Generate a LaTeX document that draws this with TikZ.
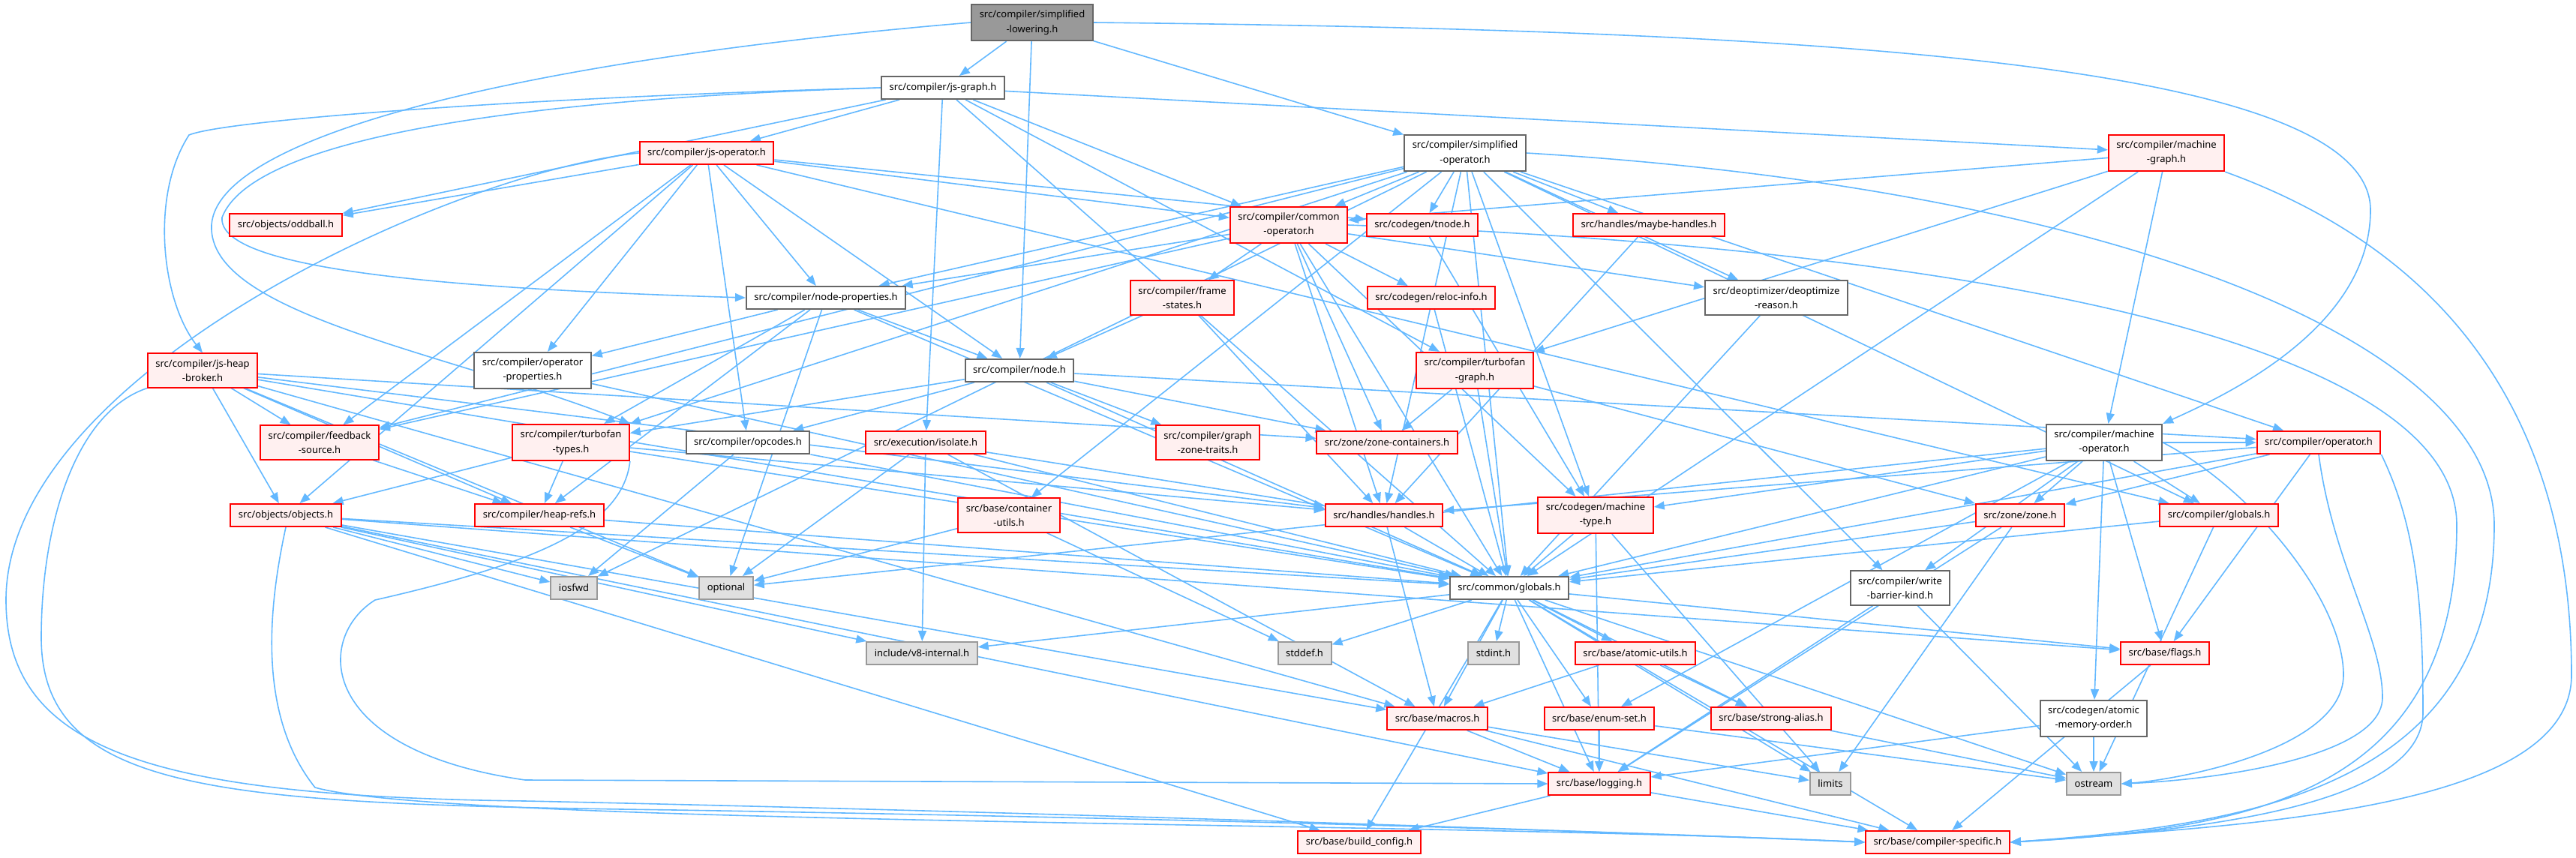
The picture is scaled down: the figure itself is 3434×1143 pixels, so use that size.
\documentclass[tikz,border=0pt]{standalone}
\usepackage{fontspec}
\setmainfont{Noto Sans}
\usetikzlibrary{arrows.meta}

\definecolor{edgeblue}{HTML}{63B8FF}
\definecolor{rootgray}{HTML}{999999}
\definecolor{boxgray}{HTML}{666666}
\definecolor{truncfill}{HTML}{FFF0F0}
\definecolor{sysfill}{HTML}{E0E0E0}
\definecolor{sysgray}{HTML}{999999}
\pgfdeclarelayer{bg}
\pgfsetlayers{bg,main}

\tikzset{
  box/.style={draw, line width=2pt, inner xsep=10.5pt, inner ysep=8pt,
    minimum height=30pt, align=center, font=\fontsize{13}{19.2}\selectfont},
  rootbox/.style={box, fill=rootgray, draw=boxgray},
  plainbox/.style={box, fill=white, draw=boxgray},
  truncbox/.style={box, fill=truncfill, draw=red},
  sysbox/.style={box, fill=sysfill, draw=sysgray},
  dep/.style={->, draw=edgeblue, line width=1.6pt},
}

\begin{document}
\begin{tikzpicture}[x=1pt, y=-1pt, >={Triangle[length=14pt,width=11pt]}]
    \useasboundingbox (0,0) rectangle (3434,1143);
    % Các tệp tiêu đề
    \node[rootbox] (SL) at (1376,30) {src/compiler/simplified\\-lowering.h};
    \node[plainbox] (JG) at (1257,117) {src/compiler/js-graph.h};
    \node[plainbox] (SO) at (1953,204) {src/compiler/simplified\\-operator.h};
    \node[truncbox] (MG) at (2888,204) {src/compiler/machine\\-graph.h};
    \node[truncbox] (JO) at (942,204) {src/compiler/js-operator.h};
    \node[truncbox] (OD) at (381,300) {src/objects/oddball.h};
    \node[truncbox] (CO) at (1718,300) {src/compiler/common\\-operator.h};
    \node[truncbox] (TN) at (1896,300) {src/codegen/tnode.h};
    \node[truncbox] (MH) at (2198,300) {src/handles/maybe-handles.h};
    \node[plainbox] (NP) at (1101,397) {src/compiler/node-properties.h};
    \node[truncbox] (FS) at (1576,397) {src/compiler/frame\\-states.h};
    \node[truncbox] (RI) at (1908,397) {src/codegen/reloc-info.h};
    \node[plainbox] (DR) at (2368,397) {src/deoptimizer/deoptimize\\-reason.h};
    \node[truncbox] (JH) at (270,494) {src/compiler/js-heap\\-broker.h};
    \node[plainbox] (OP) at (710,494) {src/compiler/operator\\-properties.h};
    \node[plainbox] (N) at (1359,494) {src/compiler/node.h};
    \node[truncbox] (TG) at (1966,494) {src/compiler/turbofan\\-graph.h};
    \node[truncbox] (FB) at (426,590) {src/compiler/feedback\\-source.h};
    \node[truncbox] (TT) at (761,590) {src/compiler/turbofan\\-types.h};
    \node[plainbox] (OC) at (997,590) {src/compiler/opcodes.h};
    \node[truncbox] (IS) at (1234,590) {src/execution/isolate.h};
    \node[truncbox] (GZ) at (1610,590) {src/compiler/graph\\-zone-traits.h};
    \node[truncbox] (ZC) at (1849,590) {src/zone/zone-containers.h};
    \node[plainbox] (MO) at (2805,590) {src/compiler/machine\\-operator.h};
    \node[truncbox] (OPR) at (3091,590) {src/compiler/operator.h};
    \node[truncbox] (OB) at (381,687) {src/objects/objects.h};
    \node[truncbox] (HR) at (719,687) {src/compiler/heap-refs.h};
    \node[truncbox] (CU) at (1345,687) {src/base/container\\-utils.h};
    \node[truncbox] (HH) at (1845,687) {src/handles/handles.h};
    \node[truncbox] (MT) at (2127,687) {src/codegen/machine\\-type.h};
    \node[truncbox] (ZZ) at (2693,687) {src/zone/zone.h};
    \node[truncbox] (CG) at (2958,687) {src/compiler/globals.h};
    \node[sysbox] (IOS) at (765,784) {iosfwd};
    \node[sysbox] (OPT) at (968,784) {optional};
    \node[plainbox] (GL) at (2012,784) {src/common/globals.h};
    \node[plainbox] (WB) at (2533,784) {src/compiler/write\\-barrier-kind.h};
    \node[sysbox] (V8I) at (1229,871) {include/v8-internal.h};
    \node[sysbox] (SD) at (1739,871) {stddef.h};
    \node[sysbox] (SI) at (1991,871) {stdint.h};
    \node[truncbox] (AU) at (2180,871) {src/base/atomic-utils.h};
    \node[truncbox] (FL) at (2886,871) {src/base/flags.h};
    \node[truncbox] (MA) at (1916,958) {src/base/macros.h};
    \node[truncbox] (ES) at (2132,958) {src/base/enum-set.h};
    \node[truncbox] (SA) at (2361,958) {src/base/strong-alias.h};
    \node[plainbox] (AMO) at (2791,958) {src/codegen/atomic\\-memory-order.h};
    \node[truncbox] (LG) at (2132,1045) {src/base/logging.h};
    \node[sysbox] (LM) at (2440,1045) {limits};
    \node[sysbox] (OS) at (2791,1045) {ostream};
    \node[truncbox] (BC) at (1812,1123) {src/base/build\_config.h};
    \node[truncbox] (CS) at (2583,1123) {src/base/compiler-specific.h};

    \begin{pgfonlayer}{bg}
    % Các phụ thuộc thẳng
    \foreach \s/\t in {SL/JG, SL/N, SL/SO,
        JG/JO, JG/CO, JG/MG, JG/TG, JG/OD, JG/IS, JG/GL,
        JO/OD, JO/TN, JO/CO, JO/NP, JO/N, JO/OC, JO/OP, JO/FB, JO/CG, JO/OB,
        SO/CO, SO/TN, SO/MH, SO/DR, SO/NP, SO/TT, SO/HH, SO/MT, SO/CU,
        SO/OPR, SO/CG, SO/WB, SO/GL, SO/IOS, SO/FB,
        MG/CO, MG/TG, MG/MO, MG/GL,
        CO/NP, CO/FS, CO/RI, CO/DR, CO/ZC, CO/HH, CO/MT, CO/FB, CO/GL,
        TN/MT, MH/HH, FS/N, FS/HH, RI/GL, DR/GL,
        NP/N, NP/OP, NP/TT, NP/HR, NP/OPT, NP/GL,
        JH/FB, JH/OB, JH/HR, JH/HH, JH/ZC, JH/OPT, JH/MA, JH/GL,
        OP/GL, N/OC, N/GZ, N/OPR, N/TT, N/ZC, N/GL,
        TG/ZC, TG/ZZ, TG/GL, FB/HR, TT/HR, TT/OB, TT/HH, TT/GL,
        OC/IOS, OC/GL, IS/OPT, IS/V8I, IS/HH, IS/MA, IS/GL,
        MO/OPR, MO/ZZ, MO/CG, MO/FL, MO/AMO, MO/MT, MO/ES, MO/GL, MO/OPT, MO/WB,
        OPR/ZZ, OPR/FL, OPR/GL, OPR/HH,
        OB/IOS, OB/V8I, OB/FL, OB/LG, OB/MA, OB/GL, OB/BC,
        HR/OPT, HR/GL, CU/OPT, CU/SD, HH/GL, HH/MA,
        MT/GL, MT/LG, MT/LM, ZZ/GL, ZZ/LG, ZZ/LM, CG/GL, CG/OS,
        GL/V8I, GL/SD, GL/SI, GL/AU, GL/FL, GL/MA, GL/ES, GL/SA,
        GL/LG, GL/LM, GL/OS, GL/BC, GL/CS,
        WB/LG, WB/OS, AU/MA, AU/SA, FL/CS, MA/LG, MA/LM, MA/CS,
        ES/LG, ES/OS, SA/OS, AMO/LG, AMO/OS, LG/BC, LG/CS} {
        \draw[dep] (\s) -- (\t);
    }
    % Các phụ thuộc vòng bên trái
    \draw[dep] (SL.west) .. controls (700,80) and (290,180) .. (282,300)
        .. controls (276,420) and (600,470) .. (TT.north east);
    \draw[dep] (JG.west) .. controls (700,130) and (300,160) .. (252,180)
        .. controls (200,260) and (215,400) .. (JH.north);
    \draw[dep] (JG.west) .. controls (600,135) and (330,200) .. (296,290)
        .. controls (290,360) and (600,385) .. (NP.west);
    \draw[dep] (JO.west) .. controls (600,230) and (8,500) .. (8,800)
        .. controls (8,1000) and (200,1062) .. (700,1068)
        .. controls (1500,1085) and (2300,1115) .. (CS.west);
    \draw[dep] (JH.south west) .. controls (100,550) and (55,700) .. (55,850)
        .. controls (55,1060) and (300,1072) .. (900,1080)
        .. controls (1800,1095) and (2300,1115) .. (CS.west);
    \draw[dep] (OB.south) .. controls (360,800) and (340,950) .. (420,1050)
        .. controls (600,1100) and (1900,1095) .. (CS.west);
    \draw[dep] (TT.south east) .. controls (830,700) and (720,750) .. (500,800)
        .. controls (420,850) and (420,1000) .. (700,1040) -- (LG.west);
    % Các phụ thuộc vòng bên phải
    \draw[dep] (SL.east) .. controls (2400,40) and (3160,80) .. (3160,280)
        .. controls (3160,440) and (2960,530) .. (MO.north east);
    \draw[dep] (MG.south east) .. controls (3300,350) and (3428,600) .. (3428,900)
        .. controls (3428,1080) and (3000,1100) .. (CS.east);
    \draw[dep] (SO.east) .. controls (2800,250) and (3325,450) .. (3325,700)
        .. controls (3325,1050) and (3000,1100) .. (CS.east);
    \draw[dep] (CO.east) .. controls (2600,330) and (3275,450) .. (3275,700)
        .. controls (3275,1060) and (3000,1105) .. (CS.east);
    \draw[dep] (OPR.south east) .. controls (3220,700) and (3230,800) .. (3230,950)
        .. controls (3230,1080) and (2900,1110) .. (CS.east);
    \draw[dep] (OPR.south) .. controls (3110,750) and (3176,850) .. (3176,930)
        .. controls (3176,1010) and (2950,1040) .. (OS.east);
    \draw[dep] (MO.east) .. controls (3000,650) and (3124,800) .. (3124,900)
        .. controls (3124,1000) and (2900,1040) .. (OS.east);
    \end{pgfonlayer}
\end{tikzpicture}
\end{document}
